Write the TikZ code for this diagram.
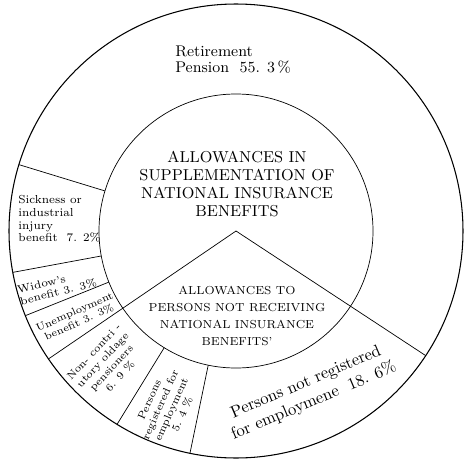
\documentclass[tikz,border=0pt]{standalone}
\usepackage{tikz}
\usetikzlibrary{calc}

\tikzset{
  slicetext/.style={font=\fontsize{6.2}{6.6}\selectfont, align=center, inner sep=0pt},
  capstext/.style={align=center, inner sep=0pt}
}

\begin{document}
\begin{tikzpicture}[scale=1]
  % Frame of the picture
  \useasboundingbox (-4.72,-4.58) rectangle (4.66,4.62);

  % Centre and radii
  \coordinate (O) at (0,0);
  \def\outerR{4.54}
  \def\innerR{2.74}

  % Rings
  \draw[semithick] (O) circle (\outerR);
  \draw (O) circle (\innerR);

  % Slice borders in the ring
  \foreach \ang in {163,190.5,201.9,214.3,238.4,258.3,-33.3}
    \draw (\ang:\innerR) -- (\ang:\outerR);

  % Split of the inner disc
  \coordinate (L) at (214.3:\innerR);
  \coordinate (R) at (-33.3:\innerR);
  \draw (L) -- (O) -- (R);

  % Inner labels
  \node[capstext, font=\fontsize{9}{10.3}\selectfont] (supp) at (0.02,0.94)
    {ALLOWANCES IN\\SUPPLEMENTATION OF\\NATIONAL INSURANCE\\BENEFITS};
  \node[capstext, font=\fontsize{6.6}{9.7}\selectfont] (notrec) at (0.02,-1.70)
    {ALLOWANCES TO\\PERSONS NOT RECEIVING\\NATIONAL INSURANCE\\BENEFITS'};

  % Ring labels
  \node[font=\fontsize{8.8}{9.2}\selectfont, align=left, anchor=west, inner sep=0pt] (retire) at (-1.22,3.42)
    {Retirement\\Pension \ 55. 3\,\%};
  \node[slicetext, font=\fontsize{6.6}{7.2}\selectfont, align=left, anchor=west] (sick) at (-4.36,0.24)
    {Sickness or\\industrial\\injury\\benefit \ 7. 2\%};
  \node[slicetext, align=left, rotate=14] (widow) at (-3.58,-1.11)
    {Widow's\\benefit 3. 3\%};
  \node[slicetext, font=\fontsize{5.9}{6.4}\selectfont, rotate=24] (unemp) at (208.4:3.62)
    {Unemployment\\benefit 3. 3\%};
  \node[slicetext, font=\fontsize{6}{6.8}\selectfont, rotate=47] (noncon) at (-2.58,-2.66)
    {Non- contri -\\utory oldage\\pensioners\\6. 9 \%};
  \node[slicetext, font=\fontsize{6}{6.8}\selectfont, rotate=66] (reg) at (-1.40,-3.52)
    {Persons\\registered for\\employment\\5. 4 \%};
  \node[font=\fontsize{9.5}{11.5}\selectfont, align=center, inner sep=0pt, rotate=23] (notreg) at (1.48,-3.22)
    {Persons not registered\\for employmene \ 18. 6\%};
\end{tikzpicture}
\end{document}
